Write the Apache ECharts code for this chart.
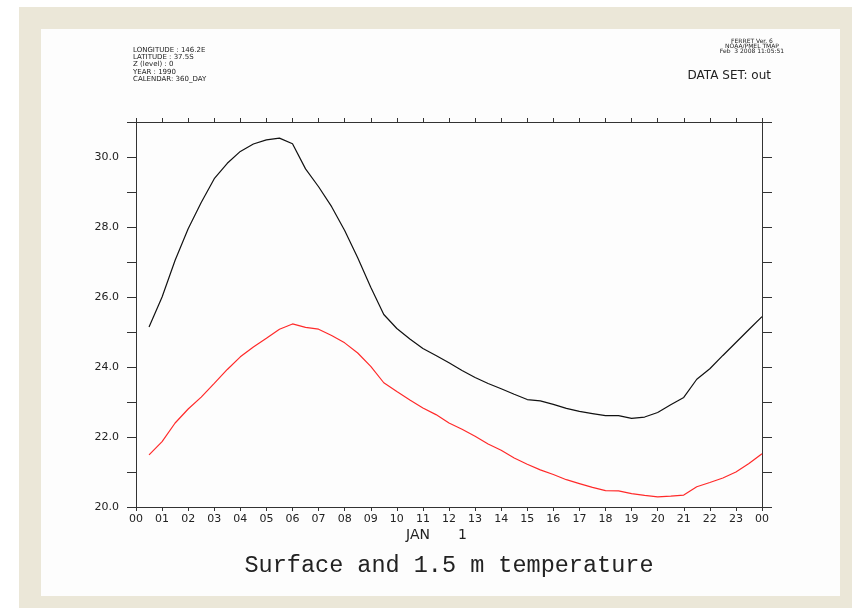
<!DOCTYPE html>
<html>
<head>
<meta charset="utf-8">
<script src="https://cdn.jsdelivr.net/npm/echarts@6/dist/echarts.min.js"></script>
<style>
  html, body { margin: 0; padding: 0; background: #ffffff; }
  #frame { position: absolute; left: 19px; top: 7px; width: 833px; height: 601px; background: #ebe7d8; }
  #paper { position: absolute; left: 41px; top: 29px; width: 799px; height: 567px; background: #fdfdfd; }
  #main { position: absolute; left: 0; top: 0; width: 852px; height: 608px; }
</style>
</head>
<body>
<div id="frame"></div>
<div id="paper"></div>
<div id="main"></div>
<script>
// hours since 00 on JAN 1
var hours = [0.5, 1, 1.5, 2, 2.5, 3, 3.5, 4, 4.5, 5, 5.5, 6, 6.5, 7, 7.5, 8, 8.5, 9, 9.5, 10,
  10.5, 11, 11.5, 12, 12.5, 13, 13.5, 14, 14.5, 15, 15.5, 16, 16.5, 17, 17.5, 18, 18.5, 19, 19.5, 20,
  20.5, 21, 21.5, 22, 22.5, 23, 23.5, 24];
// surface temperature (black)
var surfTemp = [25.14, 26.0, 27.05, 27.95, 28.7, 29.38, 29.82, 30.16, 30.37, 30.49, 30.54, 30.38, 29.66, 29.15, 28.58, 27.9, 27.12, 26.28, 25.5, 25.1,
  24.8, 24.53, 24.33, 24.12, 23.9, 23.7, 23.53, 23.38, 23.22, 23.07, 23.03, 22.93, 22.82, 22.73, 22.67, 22.61, 22.61, 22.53, 22.57, 22.7,
  22.92, 23.13, 23.65, 23.95, 24.33, 24.7, 25.07, 25.44];
// 1.5 m temperature (red)
var airTemp = [21.49, 21.87, 22.4, 22.8, 23.14, 23.53, 23.93, 24.29, 24.57, 24.82, 25.08, 25.23, 25.13, 25.08, 24.9, 24.69, 24.4, 24.02, 23.55, 23.3,
  23.06, 22.83, 22.64, 22.4, 22.22, 22.02, 21.8, 21.62, 21.4, 21.22, 21.06, 20.93, 20.78, 20.67, 20.56, 20.47, 20.46, 20.38, 20.33, 20.29,
  20.31, 20.34, 20.58, 20.7, 20.83, 21.0, 21.24, 21.52];
var headerLeft = ['LONGITUDE : 146.2E', 'LATITUDE : 37.5S', 'Z (level) : 0', 'YEAR : 1990', 'CALENDAR: 360_DAY'];
var headerRight = ['FERRET Ver. 6', 'NOAA/PMEL TMAP', 'Feb  3 2008 11:05:51'];

var chartDom = document.getElementById('main');
var myChart = echarts.init(chartDom);

function pairs(vals) {
  return hours.map(function (h, i) { return [h, vals[i]]; });
}

var axisColor = '#333';
var option = {
  animation: false,
  backgroundColor: 'transparent',
  grid: { left: 136, right: 90, top: 122, bottom: 101 },
  graphic: [
    {
      type: 'text', x: 133, y: 46,
      style: { text: headerLeft.join('\n'), font: '7px "DejaVu Sans"', lineHeight: 7.4, fill: '#222' }
    },
    {
      type: 'text', x: 752, y: 39,
      style: { text: headerRight.join('\n'), font: '6px "DejaVu Sans"', lineHeight: 4.8, fill: '#222', align: 'center' }
    },
    {
      type: 'text', x: 771, y: 70,
      style: { text: 'DATA SET: out', font: '12px "DejaVu Sans"', fill: '#222', align: 'right' }
    },
    {
      type: 'text', x: 406, y: 528,
      style: { text: 'JAN', font: '14px "DejaVu Sans"', fill: '#222' }
    },
    {
      type: 'text', x: 458, y: 528,
      style: { text: '1', font: '14px "DejaVu Sans"', fill: '#222' }
    },
    {
      type: 'text', x: 449, y: 554,
      style: { text: 'Surface and 1.5 m temperature', font: '23.5px "Liberation Mono"', fill: '#222', align: 'center' }
    }
  ],
  xAxis: [
    {
      type: 'value', position: 'bottom', min: 0, max: 24, interval: 1,
      axisLine: { onZero: false, lineStyle: { color: axisColor } },
      axisTick: { length: 4, lineStyle: { color: axisColor } },
      axisLabel: {
        margin: 7, color: '#222', fontSize: 11, fontFamily: 'DejaVu Sans',
        formatter: function (v) { var h = v % 24; return (h < 10 ? '0' : '') + h; }
      },
      splitLine: { show: false }
    },
    {
      type: 'value', position: 'top', min: 0, max: 24, interval: 1,
      axisLine: { onZero: false, lineStyle: { color: axisColor } },
      axisTick: { length: 4, lineStyle: { color: axisColor } },
      axisLabel: { show: false },
      splitLine: { show: false }
    }
  ],
  yAxis: [
    {
      type: 'value', position: 'left', min: 20, max: 31, interval: 1,
      axisLine: { show: true, onZero: false, lineStyle: { color: axisColor } },
      axisTick: { show: true, length: 9, lineStyle: { color: axisColor } },
      axisLabel: {
        margin: 17, color: '#222', fontSize: 11, fontFamily: 'DejaVu Sans',
        formatter: function (v) { return v % 2 === 0 ? v.toFixed(1) : ''; }
      },
      splitLine: { show: false }
    },
    {
      type: 'value', position: 'right', min: 20, max: 31, interval: 1,
      axisLine: { show: true, onZero: false, lineStyle: { color: axisColor } },
      axisTick: { show: true, length: 10, lineStyle: { color: axisColor } },
      axisLabel: { show: false },
      splitLine: { show: false }
    }
  ],
  series: [
    {
      name: 'Surface', type: 'line', data: pairs(surfTemp), showSymbol: false,
      lineStyle: { color: '#111', width: 1.2 }
    },
    {
      name: '1.5 m', type: 'line', data: pairs(airTemp), showSymbol: false,
      lineStyle: { color: '#ff2a2a', width: 1.2 }
    }
  ]
};
option && myChart.setOption(option);
</script>
</body>
</html>
